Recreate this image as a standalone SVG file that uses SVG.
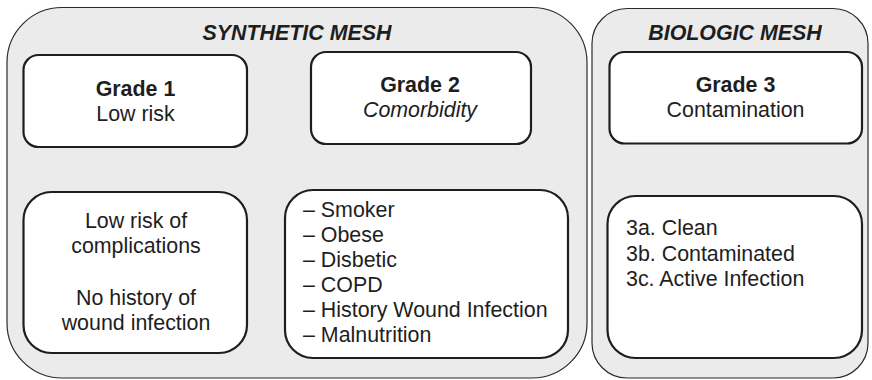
<svg xmlns="http://www.w3.org/2000/svg" width="872" height="380" viewBox="0 0 872 380">
<style>
.panel{fill:#ebebeb;stroke:#2a2a2a;stroke-width:1.2}
.box{fill:#ffffff;stroke:#1e1e1e;stroke-width:2.2}
text{font-family:"Liberation Sans",Arial,sans-serif;font-size:21.4px;fill:#1e1e1e}
.title{font-weight:bold;font-style:italic;text-anchor:middle}
.head{font-weight:bold;text-anchor:middle}
.c{text-anchor:middle}
.it{font-style:italic}
</style>
<rect width="872" height="380" fill="#ffffff"/>
<g id="synthetic-mesh">
<rect class="panel" x="7" y="7.5" width="580" height="370.5" rx="55" ry="55"/>
<text class="title" x="297" y="40">SYNTHETIC MESH</text>
</g>
<g id="biologic-mesh">
<rect class="panel" x="592" y="8.5" width="276" height="369.5" rx="35" ry="35"/>
<text class="title" x="735" y="40">BIOLOGIC MESH</text>
</g>
<g id="grade1">
<rect class="box" x="23.5" y="55" width="223.5" height="92" rx="15" ry="15"/>
<text class="head" x="135.5" y="96">Grade 1</text>
<text class="c" x="135.5" y="121">Low risk</text>
</g>
<g id="grade2">
<rect class="box" x="311" y="52" width="220" height="92" rx="15" ry="15"/>
<text class="head" x="420" y="92">Grade 2</text>
<text class="c it" x="420" y="117">Comorbidity</text>
</g>
<g id="grade3">
<rect class="box" x="609.5" y="52" width="252.5" height="91.5" rx="15" ry="15"/>
<text class="head" x="735.5" y="92">Grade 3</text>
<text class="c" x="735.5" y="117">Contamination</text>
</g>
<g id="grade1-detail">
<rect class="box" x="23.5" y="192" width="223.5" height="161" rx="28" ry="28"/>
<text class="c" x="136" y="228">Low risk of</text>
<text class="c" x="136" y="253">complications</text>
<text class="c" x="136" y="305">No history of</text>
<text class="c" x="136" y="330">wound infection</text>
</g>
<g id="grade2-detail">
<rect class="box" x="285" y="190" width="283" height="168" rx="28" ry="28"/>
<text x="303" y="217">– Smoker</text>
<text x="303" y="242">– Obese</text>
<text x="303" y="267">– Disbetic</text>
<text x="303" y="292">– COPD</text>
<text x="303" y="317">– History Wound Infection</text>
<text x="303" y="342">– Malnutrition</text>
</g>
<g id="grade3-detail">
<rect class="box" x="607.5" y="196" width="254.5" height="162" rx="28" ry="28"/>
<text x="626" y="235">3a. Clean</text>
<text x="626" y="261">3b. Contaminated</text>
<text x="626" y="286">3c. Active Infection</text>
</g>
<g id="connectors"/>
</svg>
